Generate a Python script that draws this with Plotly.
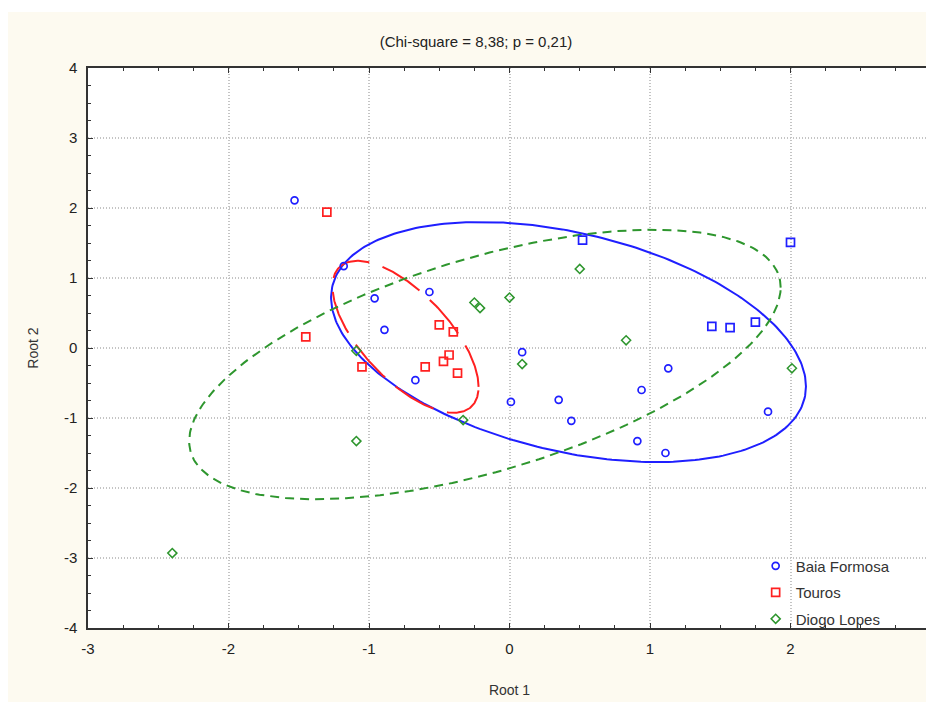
import numpy as np
import plotly.graph_objects as go

# ---------------- data ----------------
groups = ["Baia Formosa", "Touros", "Diogo Lopes"]

baia_x = [-1.53, -1.18, -0.96, -0.89, -0.57, -0.67, 0.09, 0.01, 0.35, 0.44,
          0.94, 1.13, 0.91, 1.11, 1.84]
baia_y = [2.11, 1.17, 0.71, 0.26, 0.80, -0.46, -0.06, -0.77, -0.74, -1.04,
          -0.60, -0.29, -1.33, -1.50, -0.91]
# Baia Formosa cases drawn with square marks
baia_sq_x = [0.52, 1.44, 1.57, 1.75, 2.00]
baia_sq_y = [1.54, 0.31, 0.29, 0.37, 1.51]

touros_x = [-1.30, -1.45, -1.05, -0.50, -0.40, -0.43, -0.47, -0.60, -0.37]
touros_y = [1.94, 0.16, -0.27, 0.33, 0.23, -0.10, -0.19, -0.27, -0.36]

diogo_x = [-2.40, -1.09, -1.09, -0.33, -0.25, -0.21, 0.00, 0.50, 0.09, 0.83, 2.01]
diogo_y = [-2.93, -1.33, -0.04, -1.03, 0.65, 0.57, 0.72, 1.13, -0.23, 0.11, -0.29]

# ellipse parameters per group: centre x, centre y, half-width, half-height, correlation
ell_cx = [0.42, -0.74, -0.175]
ell_cy = [0.085, 0.16, -0.235]
ell_w = [1.69, 0.52, 2.105]
ell_h = [1.715, 1.085, 1.925]
ell_rho = [-0.37, -0.66, 0.57]

tick_vals_x = [-3, -2, -1, 0, 1, 2, 3]
tick_text_x = ["-3", "-2", "-1", "0", "1", "2", "3"]
tick_vals_y = [-4, -3, -2, -1, 0, 1, 2, 3, 4]
tick_text_y = ["-4", "-3", "-2", "-1", "0", "1", "2", "3", "4"]

title_text = "(Chi-square = 8,38; p = 0,21)"

# ---------------- styles ----------------
colors = ["#1f1fff", "#ff2020", "#2e962e"]
line_dash = ["solid", "44px,14px", "9px,6px"]
FONT = "Arial, Liberation Sans, sans-serif"

fig = go.Figure()

# ellipses
t = np.linspace(0, 2 * np.pi, 300)
for i in range(3):
    ex = ell_cx[i] + ell_w[i] * np.cos(t)
    ey = ell_cy[i] + ell_h[i] * (ell_rho[i] * np.cos(t) + np.sqrt(1 - ell_rho[i] ** 2) * np.sin(t))
    fig.add_trace(go.Scatter(x=ex, y=ey, mode="lines", showlegend=False, hoverinfo="skip",
                             line=dict(color=colors[i], width=2, dash=line_dash[i])))

fig.add_trace(go.Scatter(x=baia_x, y=baia_y, mode="markers", name=groups[0], legendgroup="g0",
                         marker=dict(symbol="circle-open", size=7, color=colors[0],
                                     line=dict(width=1.7, color=colors[0]))))
fig.add_trace(go.Scatter(x=baia_sq_x, y=baia_sq_y, mode="markers", name=groups[0],
                         showlegend=False, legendgroup="g0",
                         marker=dict(symbol="square-open", size=8, color=colors[0],
                                     line=dict(width=1.7, color=colors[0]))))
fig.add_trace(go.Scatter(x=touros_x, y=touros_y, mode="markers", name=groups[1], legendgroup="g1",
                         marker=dict(symbol="square-open", size=8, color=colors[1],
                                     line=dict(width=1.7, color=colors[1]))))
fig.add_trace(go.Scatter(x=diogo_x, y=diogo_y, mode="markers", name=groups[2], legendgroup="g2",
                         marker=dict(symbol="diamond-open", size=7, color=colors[2],
                                     line=dict(width=1.5, color=colors[2]))))

def axis_style(minor_vals):
    return dict(
        showline=True, linecolor="#333333", linewidth=1.5, mirror="ticks",
        ticks="inside", ticklen=5, tickcolor="#333333", tickwidth=1,
        showgrid=True, gridcolor="#c4c4c4", griddash="1px,2px", gridwidth=1.5,
        zeroline=False, ticklabelstandoff=6,
        tickfont=dict(family=FONT, size=15, color="#222222"),
        minor=dict(tickmode="array", tickvals=minor_vals, ticks="inside", ticklen=3,
                   tickcolor="#333333", showgrid=False),
    )

minor_x = list(np.arange(-3, 3.001, 0.25))
minor_y = list(np.arange(-4, 4.001, 0.25))

fig.update_layout(
    width=934, height=702,
    margin=dict(l=80, r=7, t=60, b=82),
    paper_bgcolor="#fdfaf0",
    plot_bgcolor="#ffffff",
    title=dict(text=title_text, x=468 / 934, xref="container", xanchor="center",
               y=1 - 34 / 702, yref="container", yanchor="middle",
               font=dict(family=FONT, size=15, color="#222222")),
    xaxis=dict(range=[-3, 3], tickvals=tick_vals_x, ticktext=tick_text_x,
               title=dict(text="Root 1", standoff=29, font=dict(family=FONT, size=14, color="#333333")),
               **axis_style(minor_x)),
    yaxis=dict(range=[-4, 4], tickvals=tick_vals_y, ticktext=tick_text_y,
               title=dict(text="Root 2", standoff=22, font=dict(family=FONT, size=14, color="#333333")),
               **axis_style(minor_y)),
    legend=dict(x=0.792, y=0.14, xanchor="left", yanchor="top",
                bgcolor="rgba(0,0,0,0)", borderwidth=0,
                font=dict(family=FONT, size=15, color="#333333"),
                tracegroupgap=4, itemsizing="trace"),
    showlegend=True,
    shapes=[dict(type="rect", xref="paper", yref="paper", layer="below",
                 x0=-0.2, x1=1.1, y0=(620 - 4) / 560, y1=(620 + 10) / 560,
                 fillcolor="#ffffff", line=dict(width=0))],
)

fig.write_html("out.html")
